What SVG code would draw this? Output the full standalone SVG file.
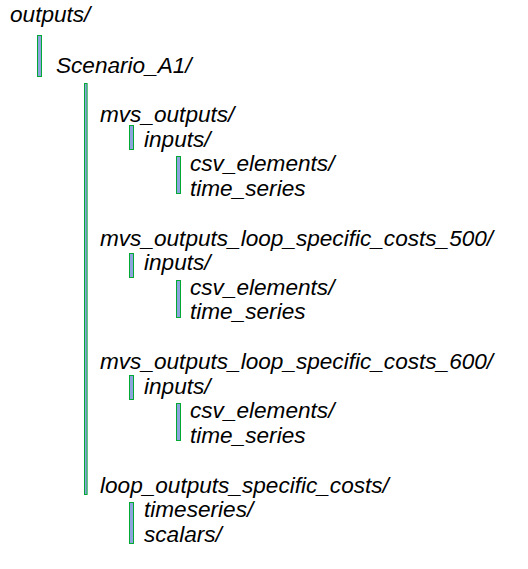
<svg xmlns="http://www.w3.org/2000/svg" width="528" height="569" viewBox="0 0 528 569">
<style>
text{font-family:"Liberation Sans",Arial,sans-serif;font-style:italic;font-size:22.6px;fill:#000}
.bar{fill:#8ea4dd;stroke:#00a933;stroke-width:1}
</style>
<rect width="528" height="569" fill="#fff"/>
<g id="connectors">
<rect class="bar" x="37.5" y="35.5" width="4" height="41"/>
<rect class="bar" x="84.5" y="83.5" width="2.6" height="411"/>
<rect class="bar" x="129.5" y="125.5" width="4" height="24"/>
<rect class="bar" x="176.5" y="156.5" width="4" height="37"/>
<rect class="bar" x="129.5" y="253.5" width="4" height="24"/>
<rect class="bar" x="176.5" y="280.5" width="4" height="37"/>
<rect class="bar" x="129.5" y="375.5" width="4" height="24"/>
<rect class="bar" x="176.5" y="403.5" width="4" height="37"/>
<rect class="bar" x="129.5" y="502.5" width="4" height="41"/>
</g>
<g id="outputs"><text x="10" y="22">outputs/</text></g>
<g id="scenario"><text x="56" y="73">Scenario_A1/</text></g>
<g id="mvs_outputs">
<text x="100" y="122">mvs_outputs/</text>
<text x="144" y="146.5">inputs/</text>
<text x="190" y="171">csv_elements/</text>
<text x="190" y="195.5">time_series</text>
</g>
<g id="mvs_outputs_500">
<text x="100" y="245.5">mvs_outputs_loop_specific_costs_500/</text>
<text x="144" y="270">inputs/</text>
<text x="190" y="294.5">csv_elements/</text>
<text x="190" y="319">time_series</text>
</g>
<g id="mvs_outputs_600">
<text x="100" y="369">mvs_outputs_loop_specific_costs_600/</text>
<text x="144" y="393.5">inputs/</text>
<text x="190" y="418">csv_elements/</text>
<text x="190" y="442.5">time_series</text>
</g>
<g id="loop_outputs">
<text x="100" y="492.5">loop_outputs_specific_costs/</text>
<text x="144" y="517">timeseries/</text>
<text x="144" y="541.5">scalars/</text>
</g>
</svg>
